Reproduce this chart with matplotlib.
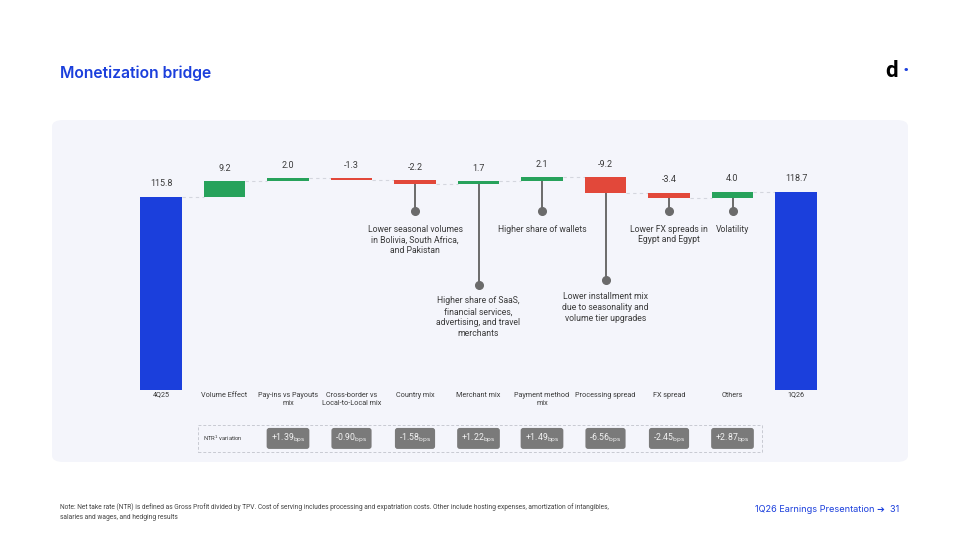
import numpy as np
import matplotlib
matplotlib.use("Agg")
import matplotlib.pyplot as plt
from matplotlib.patches import FancyBboxPatch, Rectangle

plt.rcParams['font.family'] = ['Roboto', 'DejaVu Sans']

# data
categories = ["4Q25", "Volume Effect", "Pay-ins vs Payouts\nmix", "Cross-border vs\nLocal-to-Local mix",
              "Country mix", "Merchant mix", "Payment method\nmix", "Processing spread",
              "FX spread", "Others", "1Q26"]
start_value = 115.8
deltas = [9.2, 2.0, -1.3, -2.2, 1.7, 2.1, -9.2, -3.4, 4.0]
end_value = 118.7
ntr_variation = ["+1.39", "-0.90", "-1.58", "+1.22", "+1.49", "-6.56", "-2.45", "+2.87"]
callouts = {
    4: "Lower seasonal volumes\nin Bolivia, South Africa,\nand Pakistan",
    5: "Higher share of SaaS,\nfinancial services,\nadvertising, and travel\nmerchants",
    6: "Higher share of wallets",
    7: "Lower installment mix\ndue to seasonality and\nvolume tier upgrades",
    8: "Lower FX spreads in\nEgypt and Egypt",
    9: "Volatility",
}
# callout dot / text levels (value units)
callout_dot = {4: 107.2, 5: 62.9, 6: 107.2, 7: 65.9, 8: 107.2, 9: 107.2}
callout_txt = {4: 99.0, 5: 56.0, 6: 99.0, 7: 58.5, 8: 99.0, 9: 99.0}

BLUE = "#1b3fdc"
GREEN = "#27a25b"
RED = "#e2483a"
TXT = "#3a3a3a"

W, H = 960, 540
fig = plt.figure(figsize=(9.6, 5.4), dpi=100)
fig.patch.set_facecolor("white")

# panel background
panel = FancyBboxPatch((52 / W, 1 - 462 / H), (908 - 52) / W, (462 - 120) / H,
                       boxstyle="round,pad=0,rounding_size=0.012", transform=fig.transFigure,
                       fc="#f4f5fb", ec="none", zorder=-5)
fig.patches.append(panel)

# axes: x pixel 129.25..827.75, y pixel 140..470
ax = fig.add_axes([129.25 / W, 1 - 470 / H, (827.75 - 129.25) / W, (470 - 140) / H])
ax.set_zorder(2)
ax.set_xlim(-0.5, 10.5)
ax.set_ylim(-(470 - 390) / 1.67, (390 - 140) / 1.67)
ax.axis("off")
ax.patch.set_alpha(0)

x = np.arange(len(categories))
bw = 0.65

# bars
cum = start_value
levels = [start_value]
bottoms, heights, colors = [0], [start_value], [BLUE]
for d in deltas:
    bottoms.append(cum if d >= 0 else cum + d)
    heights.append(abs(d))
    colors.append(GREEN if d >= 0 else RED)
    cum += d
    levels.append(cum)
bottoms.append(0)
heights.append(end_value)
colors.append(BLUE)
ax.bar(x, heights, bottom=bottoms, width=bw, color=colors, zorder=3)

# connectors
for i in range(len(x) - 1):
    ax.plot([x[i] + bw / 2, x[i + 1] - bw / 2], [levels[i], levels[i]], ls=(0, (3, 3)),
            color="#d4d6de", lw=0.8, zorder=2)

# value labels
values = [start_value] + deltas + [end_value]
for i, v in enumerate(values):
    top = bottoms[i] + heights[i]
    ax.annotate(f"{v:.1f}", (x[i], top), xytext=(0, 6), textcoords="offset points",
                ha="center", va="bottom", fontsize=6.5, color=TXT)

# category labels
for i, c in enumerate(categories):
    ax.text(x[i], -1.0, c, ha="center", va="top", fontsize=5.2, color=TXT, linespacing=1.3)

# callouts
for i, txt in callouts.items():
    b = bottoms[i]
    ax.plot([x[i], x[i]], [b, callout_dot[i]], color="#6b6b6b", lw=1.4, zorder=2)
    ax.plot(x[i], callout_dot[i], "o", color="#6b6b6b", ms=5.5, zorder=2)
    ax.text(x[i], callout_txt[i], txt, ha="center", va="top", fontsize=6.2, color=TXT,
            linespacing=1.25)

# NTR variation row
ax.add_patch(Rectangle((0.583, -37.1), 9.46 - 0.583, 16.1, fill=False, ec="#c8cad2",
                       ls=(0, (3, 2)), lw=0.7))
ax.text(0.66, -29.0, "NTR$^1$ variation", ha="left", va="center", fontsize=4.2, color=TXT)
for k, s in enumerate(ntr_variation):
    ax.text(x[k + 2], -29.0, s + "$_{\\rm bps}$", ha="center", va="center", fontsize=6.3,
            color="#f2f2f2",
            bbox=dict(boxstyle="round,pad=0.45,rounding_size=0.3", fc="#7a7a7a", ec="none"))

# title, logo, footer
fig.text(60 / W, 1 - 73 / H, "Monetization bridge", fontsize=11.3, color=BLUE,
         fontfamily=["Inter", "DejaVu Sans"], fontweight="semibold", va="center")
fig.text(885 / W, 1 - 71 / H, "d", fontsize=16, color="black", fontweight="bold", va="center")
fig.text(906 / W, 1 - 71 / H, "·", fontsize=16, color=BLUE, fontweight="bold", va="center",
         ha="center")
fig.text(60 / W, 1 - 512 / H,
         "Note: Net take rate (NTR) is defined as Gross Profit divided by TPV. Cost of serving includes "
         "processing and expatriation costs. Other include hosting expenses, amortization of intangibles,\n"
         "salaries and wages, and hedging results",
         fontsize=4.75, color="#444444", va="center", linespacing=1.55)
fig.text(899 / W, 1 - 510 / H, "1Q26 Earnings Presentation \u2794  31", fontsize=6.6,
         color=BLUE, ha="right", va="center", fontfamily=["Inter", "DejaVu Sans"])

fig.savefig("out.png", dpi=100)
